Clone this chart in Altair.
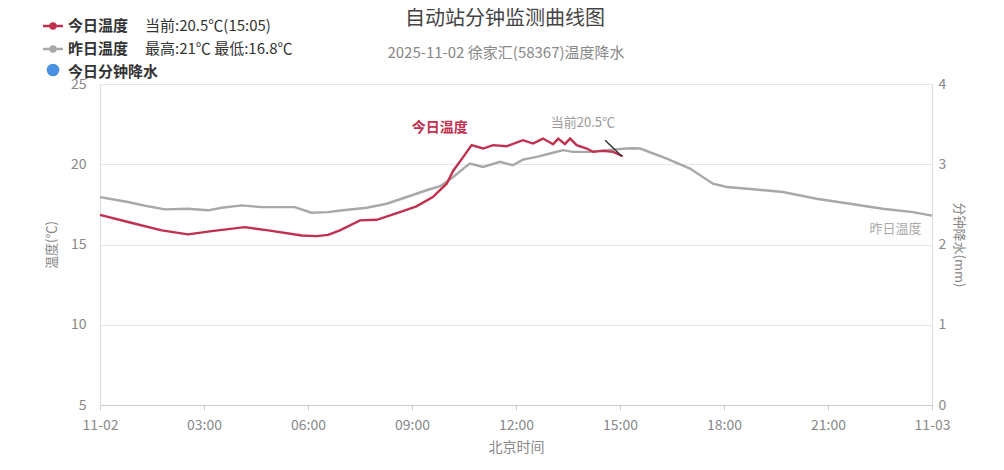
import altair as alt
import pandas as pd

FONT = "Noto Sans CJK SC"
RED = "#c2304f"
GRAY = "#a8a8a8"
BLUE = "#4a90e2"

# today's temperature (hours since 00:00, deg C)
today_h = [0.0, 0.81, 1.78, 2.54, 3.22, 4.18, 4.85, 5.82, 6.25, 6.58, 6.92, 7.5, 7.98, 8.65,
           9.13, 9.6, 10.0, 10.19, 10.48, 10.72, 11.05, 11.34, 11.73, 12.2, 12.49, 12.78,
           13.07, 13.22, 13.41, 13.56, 13.75, 14.04, 14.22, 14.51, 14.8, 15.08]
today_t = [16.85, 16.4, 15.88, 15.63, 15.83, 16.08, 15.88, 15.56, 15.52, 15.6, 15.88, 16.5, 16.54, 17.02,
           17.38, 17.96, 18.79, 19.6, 20.46, 21.19, 20.98, 21.19, 21.12, 21.5, 21.29, 21.6,
           21.25, 21.6, 21.25, 21.6, 21.19, 20.98, 20.77, 20.83, 20.77, 20.5]

# yesterday's temperature
yest_h = [0.0, 0.81, 1.38, 1.87, 2.54, 3.12, 3.51, 4.09, 4.66, 5.62, 6.1, 6.58, 7.01, 7.69, 8.27,
          8.85, 9.42, 9.81, 10.19, 10.48, 10.67, 11.05, 11.54, 11.91, 12.2, 12.6, 12.98, 13.36,
          13.64, 14.13, 14.61, 15.19, 15.38, 15.58, 16.35, 17.02, 17.68, 18.08, 18.75, 19.7,
          20.67, 21.63, 22.58, 23.45, 24.0]
yest_t = [17.95, 17.65, 17.38, 17.19, 17.23, 17.13, 17.29, 17.44, 17.33, 17.33, 16.98, 17.02, 17.13,
          17.29, 17.54, 17.96, 18.38, 18.63, 19.21, 19.73, 20.04, 19.83, 20.15, 19.94, 20.29, 20.46,
          20.67, 20.88, 20.77, 20.77, 20.88, 20.98, 21.0, 20.98, 20.35, 19.73, 18.79, 18.58, 18.46,
          18.27, 17.85, 17.54, 17.23, 17.02, 16.8]

# minute precipitation (none today)
precip_h = [0.0, 24.0]
precip_mm = [0.0, 0.0]

x_ticks = [0, 3, 6, 9, 12, 15, 18, 21, 24]
y_ticks = [5, 10, 15, 20, 25]
p_ticks = [0, 1, 2, 3, 4]

today = pd.DataFrame({"h": today_h, "t": today_t})
yest = pd.DataFrame({"h": yest_h, "t": yest_t})
precip = pd.DataFrame({"h": precip_h, "p": precip_mm})

xscale = alt.Scale(domain=[0, 24], nice=False, zero=False)
yscale = alt.Scale(domain=[5, 25], nice=False, zero=False)

x_enc = alt.X("h:Q", scale=xscale, axis=alt.Axis(
    values=x_ticks, title="北京时间", grid=False, labelFlush=False,
    labelExpr="datum.value == 0 ? '11-02' : datum.value == 24 ? '11-03' : (datum.value < 10 ? '0' : '') + datum.value + ':00'",
    domainColor="#cccccc", tickColor="#cccccc", tickSize=5, labelPadding=8,
    labelColor="#888888", labelFontSize=14, titleColor="#888888", titleFontSize=14,
    titlePadding=8, titleFontWeight="normal", labelFont=FONT, titleFont=FONT))

y_axis = alt.Axis(values=y_ticks, title="温度(℃)", grid=True, gridColor="#e6e6e6",
                  domain=False, ticks=False, labelPadding=14, labelColor="#888888",
                  labelFontSize=14, titleColor="#888888", titleFontSize=13,
                  titleFontWeight="normal", titlePadding=12, labelFont=FONT, titleFont=FONT)

yest_line = alt.Chart(yest).mark_line(color=GRAY, strokeWidth=2.4).encode(
    x=x_enc, y=alt.Y("t:Q", scale=yscale, axis=y_axis))
today_line = alt.Chart(today).mark_line(color=RED, strokeWidth=2.4).encode(
    x=alt.X("h:Q", scale=xscale), y=alt.Y("t:Q", scale=yscale))

# curve labels
lab_today = pd.DataFrame({"h": [9.8], "t": [22.25], "txt": ["今日温度"]})
lab_cur = pd.DataFrame({"h": [13.93], "t": [22.6], "txt": ["当前20.5℃"]})
lab_yest = pd.DataFrame({"h": [22.95], "t": [15.94], "txt": ["昨日温度"]})
arrow = pd.DataFrame({"h": [14.57], "t": [21.5], "h2": [15.05], "t2": [20.5]})

t1 = alt.Chart(lab_today).mark_text(color=RED, fontSize=14, fontWeight="bold", font=FONT).encode(
    x=alt.X("h:Q", scale=xscale), y=alt.Y("t:Q", scale=yscale), text="txt:N")
t2 = alt.Chart(lab_cur).mark_text(color="#999999", fontSize=13, font=FONT).encode(
    x=alt.X("h:Q", scale=xscale), y=alt.Y("t:Q", scale=yscale), text="txt:N")
t3 = alt.Chart(lab_yest).mark_text(color="#aaaaaa", fontSize=13, font=FONT).encode(
    x=alt.X("h:Q", scale=xscale), y=alt.Y("t:Q", scale=yscale), text="txt:N")
arr = alt.Chart(arrow).mark_rule(color="#333333", strokeWidth=1.5).encode(
    x=alt.X("h:Q", scale=xscale), y=alt.Y("t:Q", scale=yscale), x2="h2:Q", y2="t2:Q")

one = pd.DataFrame({"a": [0]})

def txt(s, x, y, size=15, color="#333333", align="left", weight="normal"):
    return alt.Chart(one).mark_text(text=s, fontSize=size, color=color, align=align,
                                    baseline="middle", font=FONT, fontWeight=weight).encode(
        x=alt.value(x), y=alt.value(y))

title = txt("自动站分钟监测曲线图", 405, -65, size=20, color="#444444", align="center")
subtitle = txt("2025-11-02 徐家汇(58367)温度降水", 406, -31, size=15, color="#888888", align="center")

leg_red_line = alt.Chart(one).mark_rule(color=RED, strokeWidth=2.5).encode(
    x=alt.value(-57), x2=alt.value(-37), y=alt.value(-58))
leg_red_dot = alt.Chart(one).mark_circle(color=RED, opacity=1, size=55).encode(
    x=alt.value(-47), y=alt.value(-58))
leg_gray_line = alt.Chart(one).mark_rule(color=GRAY, strokeWidth=2.5).encode(
    x=alt.value(-57), x2=alt.value(-37), y=alt.value(-35))
leg_gray_dot = alt.Chart(one).mark_circle(color=GRAY, opacity=1, size=55).encode(
    x=alt.value(-47), y=alt.value(-35))
leg_blue = alt.Chart(one).mark_circle(color=BLUE, opacity=1, size=160).encode(
    x=alt.value(-47), y=alt.value(-14))

legend_txt = [
    txt("今日温度", -32, -58, weight="bold"),
    txt("当前:20.5℃(15:05)", 45, -58),
    txt("昨日温度", -32, -35, weight="bold"),
    txt("最高:21℃ 最低:16.8℃", 45, -35),
    txt("今日分钟降水", -32, -12, weight="bold"),
]

temp_layer = alt.layer(yest_line, today_line, t1, t2, t3, arr, title, subtitle,
                       leg_red_line, leg_red_dot, leg_gray_line, leg_gray_dot, leg_blue,
                       *legend_txt)

precip_layer = alt.Chart(precip).mark_point(opacity=0).encode(
    x=alt.X("h:Q", scale=xscale),
    y=alt.Y("p:Q", scale=alt.Scale(domain=[0, 4], nice=False), axis=alt.Axis(
        orient="right", values=p_ticks, title="分钟降水(mm)", grid=False, domain=False,
        ticks=False, labelPadding=6, labelColor="#888888", labelFontSize=14,
        titleColor="#888888", titleFontSize=13, titleFontWeight="normal",
        titlePadding=6, labelFont=FONT, titleFont=FONT)))

chart = alt.layer(temp_layer, precip_layer).resolve_scale(y="independent").properties(
    width=832, height=321, autosize="none",
    padding={"left": 92, "top": 76, "right": 64, "bottom": 57},
    background="white",
).configure_view(stroke=None).configure(font=FONT)

chart.save("out.html", embed_options={"renderer": "svg", "actions": False})
